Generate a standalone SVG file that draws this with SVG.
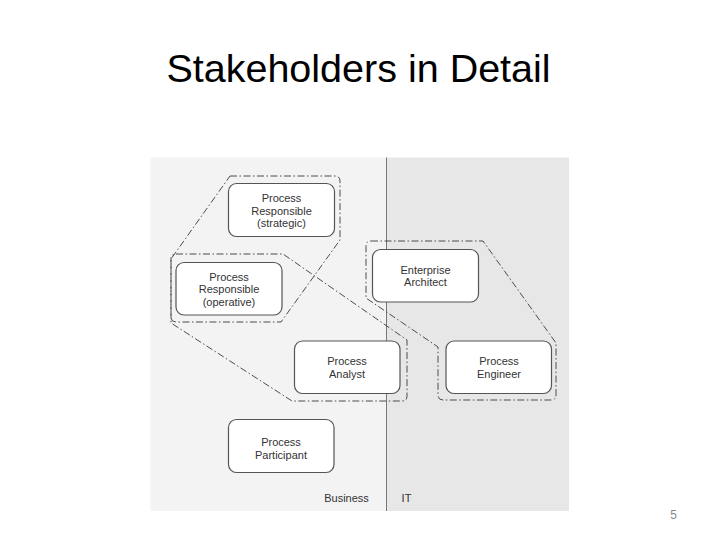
<svg xmlns="http://www.w3.org/2000/svg" width="720" height="540" viewBox="0 0 720 540">
<style>
.box{fill:#ffffff;stroke:#555555;stroke-width:1.2}
.lbl{font-family:"Liberation Sans",Arial,sans-serif;font-size:11px;fill:#333333;text-anchor:middle}
.grp{fill:none;stroke:#3a3a3a;stroke-width:0.9;stroke-dasharray:7 2.5 1.5 2.5;stroke-linejoin:round}
</style>
<rect width="720" height="540" fill="#ffffff"/>
<text x="358.5" y="82" font-family="Liberation Sans, Arial, sans-serif" font-size="39.5" fill="#000000" text-anchor="middle">Stakeholders in Detail</text>
<g id="panel">
<rect x="150.5" y="157.5" width="236" height="353.5" fill="#f3f3f3"/>
<rect x="386.5" y="157.5" width="182.5" height="353.5" fill="#e7e7e7"/>
<line x1="386.5" y1="157.5" x2="386.5" y2="511" stroke="#777777" stroke-width="1"/>
<text class="lbl" x="346.5" y="501.5">Business</text>
<text class="lbl" x="406.5" y="501.5">IT</text>
</g>
<g id="connectors">
<path class="grp" d="M230,176 L335,176 Q340,176 340,181 L340,240 L281,322 L176,322 Q171,322 171,317 L171,259 Z"/>
<path class="grp" d="M176,254 L283,254 L407,340 L407,396 Q407,401 402,401 L292,401 L171,323 L171,259 Q171,254 176,254 Z"/>
<path class="grp" d="M371,241 L483,241 L556,343 L556,395 Q556,400 551,400 L443,400 Q438,400 438,395 L438,347 L366,298 L366,246 Q366,241 371,241 Z"/>
</g>
<g id="strategic">
<rect class="box" x="228.5" y="183.5" width="106" height="53" rx="8"/>
<text class="lbl" x="281.5" y="202">Process</text>
<text class="lbl" x="281.5" y="214.5">Responsible</text>
<text class="lbl" x="281.5" y="227">(strategic)</text>
</g>
<g id="operative">
<rect class="box" x="176" y="262.5" width="106" height="52.5" rx="8"/>
<text class="lbl" x="229" y="280.5">Process</text>
<text class="lbl" x="229" y="293">Responsible</text>
<text class="lbl" x="229" y="305.5">(operative)</text>
</g>
<g id="architect">
<rect class="box" x="372.5" y="249.5" width="106" height="52.5" rx="8"/>
<text class="lbl" x="425.5" y="273.5">Enterprise</text>
<text class="lbl" x="425.5" y="286">Architect</text>
</g>
<g id="analyst">
<rect class="box" x="294.5" y="341" width="105.5" height="52.5" rx="8"/>
<text class="lbl" x="347" y="365">Process</text>
<text class="lbl" x="347" y="377.5">Analyst</text>
</g>
<g id="engineer">
<rect class="box" x="446" y="341" width="105.5" height="52.5" rx="8"/>
<text class="lbl" x="499" y="365">Process</text>
<text class="lbl" x="499" y="377.5">Engineer</text>
</g>
<g id="participant">
<rect class="box" x="228.5" y="419.5" width="105.5" height="53" rx="8"/>
<text class="lbl" x="281" y="446">Process</text>
<text class="lbl" x="281" y="458.5">Participant</text>
</g>
<text x="673.5" y="519" font-family="Liberation Sans, Arial, sans-serif" font-size="12" fill="#8a8a8a" text-anchor="middle">5</text>
</svg>
